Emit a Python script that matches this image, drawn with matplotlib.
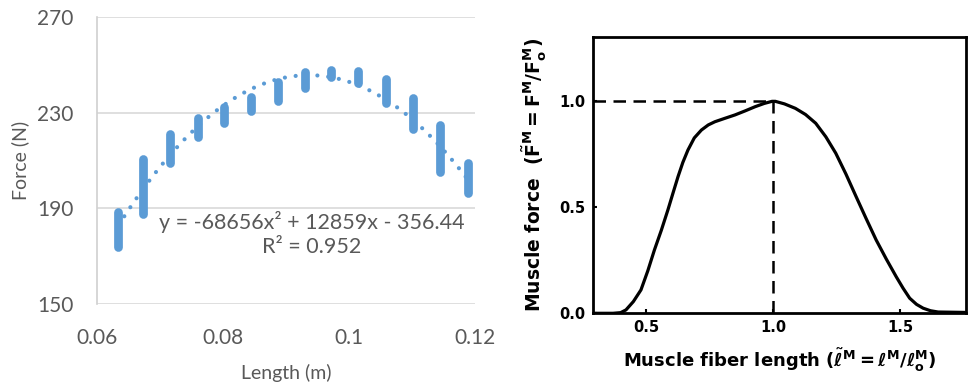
import numpy as np
import matplotlib
matplotlib.use("Agg")
import matplotlib.pyplot as plt

# left panel: measured clusters (length in m, force range in N)
length_m = [0.0634, 0.0673, 0.0716, 0.0760, 0.0802, 0.0844, 0.0887,
            0.0930, 0.0972, 0.1015, 0.1058, 0.1102, 0.1144, 0.1189]
force_lo = [174.0, 187.5, 209.0, 220.0, 225.7, 230.7, 235.0,
            240.3, 245.0, 242.4, 234.0, 223.2, 205.2, 196.4]
force_hi = [188.5, 210.6, 221.0, 227.8, 232.4, 236.6, 242.8,
            247.0, 247.8, 247.4, 244.1, 236.1, 224.8, 209.0]
fit_coef = [-68656, 12859, -356.44]
fit_text = "y = -68656x\u00b2 + 12859x - 356.44\nR\u00b2 = 0.952"

# right panel: normalised force-length curve
fib_len = [0.29, 0.37, 0.40, 0.421, 0.45, 0.480, 0.507, 0.533, 0.56, 0.586,
           0.606, 0.626, 0.645, 0.665, 0.69, 0.718, 0.745, 0.771, 0.81, 0.850,
           0.89, 0.930, 0.965, 0.996, 1.009, 1.045, 1.088, 1.128, 1.168, 1.208,
           1.247, 1.287, 1.327, 1.366, 1.406, 1.446, 1.485, 1.512, 1.538, 1.565,
           1.591, 1.62, 1.65, 1.76]
fib_force = [0.0, 0.0, 0.003, 0.016, 0.055, 0.11, 0.20, 0.298, 0.39, 0.486,
             0.565, 0.643, 0.71, 0.768, 0.825, 0.862, 0.886, 0.901, 0.917, 0.933,
             0.952, 0.972, 0.987, 0.997, 0.997, 0.985, 0.964, 0.935, 0.894, 0.83,
             0.753, 0.655, 0.549, 0.447, 0.345, 0.255, 0.172, 0.118, 0.071, 0.042,
             0.024, 0.012, 0.006, 0.004]

BLUE = "#5b9bd5"; GREY = "#595959"
fig = plt.figure(figsize=(9.68, 3.83), dpi=100)

ax = fig.add_axes([0.1002, 0.2063, 0.3905, 0.7493])
lc = ax.vlines(length_m, force_lo, force_hi, color=BLUE, lw=6.3, zorder=3)
lc.set_capstyle("round")
xf = np.linspace(min(length_m), max(length_m), 200)
ax.plot(xf, np.polyval(fit_coef, xf), color=BLUE, lw=3.0,
        ls=(0, (0.01, 2.6)), dash_capstyle="round", zorder=2)
ax.text(0.0941, 179.3, fit_text, ha="center", va="center", fontsize=15.5,
        color=GREY, family="Lato", linespacing=1.3)
ax.set_xlim(0.06, 0.12); ax.set_ylim(150, 270)
ax.set_xticks([0.06, 0.08, 0.1, 0.12]); ax.set_xticklabels(["0.06", "0.08", "0.1", "0.12"])
ax.set_yticks([150, 190, 230, 270])
ax.yaxis.grid(True, color="#d9d9d9", lw=1.2); ax.set_axisbelow(True)
for s in ["top", "right", "bottom"]: ax.spines[s].set_visible(False)
ax.spines["left"].set_color("#d0d0d0"); ax.spines["left"].set_linewidth(1.2)
ax.tick_params(length=0, labelsize=15, labelcolor=GREY, pad=17)
for t in ax.get_xticklabels() + ax.get_yticklabels(): t.set_family("Lato")
ax.set_xlabel("Length (m)", fontsize=14, color=GREY, family="Lato", labelpad=12)
ax.set_ylabel("Force (N)", fontsize=14, color=GREY, family="Lato", labelpad=6)

plt.rcParams["mathtext.fontset"] = "dejavusans"
plt.rcParams["mathtext.default"] = "bf"
bx = fig.add_axes([0.6123, 0.182, 0.3857, 0.7216])
bx.plot(fib_len, fib_force, color="black", lw=2.3, solid_joinstyle="round")
bx.plot([0.29, 1.0], [1.0, 1.0], color="black", lw=1.8, ls=(0, (5, 3)))
bx.plot([1.0, 1.0], [0.0, 1.0], color="black", lw=1.8, ls=(0, (5, 3)))
bx.set_xlim(0.29, 1.76); bx.set_ylim(0, 1.3)
bx.set_xticks([0.5, 1.0, 1.5]); bx.set_yticks([0.0, 0.5, 1.0])
for s in bx.spines.values(): s.set_linewidth(2)
bx.tick_params(direction="in", length=3, width=1.5, labelsize=10.5, pad=5)
for t in bx.get_xticklabels() + bx.get_yticklabels(): t.set_fontweight("bold")
bx.set_xlabel(r"Muscle fiber length ($\tilde{\ell}^{M} = \ell^{M}/\ell_{o}^{M}$)",
              fontsize=13, fontweight="bold", labelpad=8)
bx.set_ylabel(r"Muscle force  ($\tilde{F}^{M} = F^{M}/F_{o}^{M}$)",
              fontsize=13.5, fontweight="bold", labelpad=8)

fig.savefig("out.png", dpi=100)
